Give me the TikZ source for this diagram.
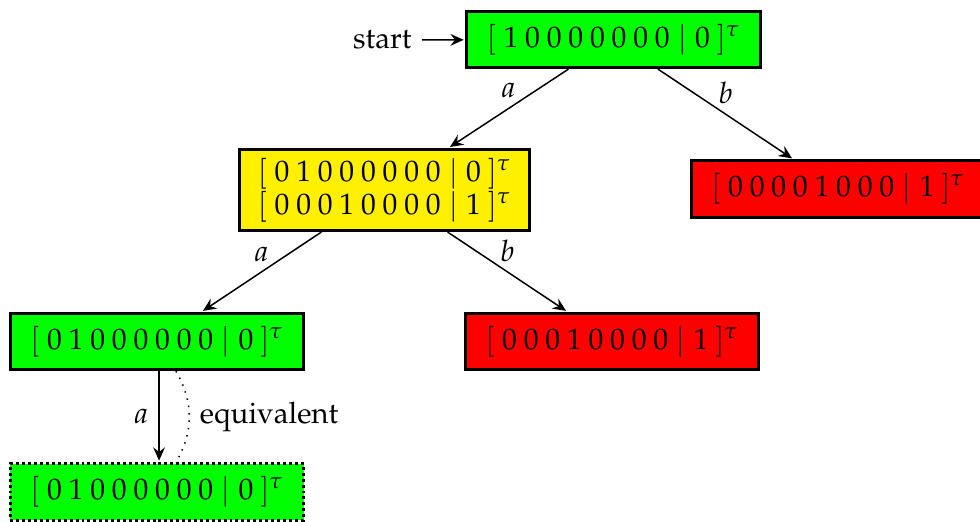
\documentclass[tikz,border=0pt]{standalone}
\usepackage[T1]{fontenc}
\usepackage{mathpazo}
\usetikzlibrary{arrows.meta}
\newcommand{\dg}{\kern2.3pt}
\newcommand{\vecv}[2]{$[\kern2.6pt#1\kern2.7pt|\kern2.7pt#2\kern2.3pt]^{\tau}$}
\tikzset{
  statebox/.style={draw, line width=1pt, minimum width=99pt, minimum height=19pt, inner sep=2pt},
  goodbox/.style={statebox, fill={rgb,255:red,0;green,255;blue,0}},
  badbox/.style={statebox, fill={rgb,255:red,255;green,0;blue,0}},
  mixbox/.style={statebox, fill={rgb,255:red,255;green,240;blue,0}, minimum height=27.4pt, minimum width=98pt},
  dotbox/.style={goodbox, dash pattern=on 1pt off 1pt},
  trans/.style={-{Stealth[length=4.5pt, width=4pt, inset=1.6pt]}, line width=0.5pt, shorten >=0.6pt},
}
\begin{document}
\begin{tikzpicture}[x=0.3378pt, y=-0.3378pt]
\useasboundingbox (0,0) rectangle (980,521);
\node[goodbox] (top) at (613.5,39.5) {\vecv{1\dg0\dg0\dg0\dg0\dg0\dg0\dg0}{0}};
\node[mixbox, align=center] (mix) at (384.5,190) {\vecv{0\dg1\dg0\dg0\dg0\dg0\dg0\dg0}{0}\\[-1pt]\vecv{0\dg0\dg0\dg1\dg0\dg0\dg0\dg0}{1}};
\node[badbox] (rr) at (838,189) {\vecv{0\dg0\dg0\dg0\dg1\dg0\dg0\dg0}{1}};
\node[goodbox] (gl) at (157,341.5) {\vecv{0\dg1\dg0\dg0\dg0\dg0\dg0\dg0}{0}};
\node[badbox] (rm) at (612,341.5) {\vecv{0\dg0\dg0\dg1\dg0\dg0\dg0\dg0}{1}};
\node[dotbox] (gd) at (157,492) {\vecv{0\dg1\dg0\dg0\dg0\dg0\dg0\dg0}{0}};
\node[anchor=east] (st) at (422,40) {start};
\draw[trans] (st) -- (top);
\draw[trans] (top) -- node[above] {$a$} (mix);
\draw[trans] (top) -- node[above] {$b$} (rr);
\draw[trans] (mix) -- node[above] {$a$} (gl);
\draw[trans] (mix) -- node[above] {$b$} (rm);
\draw[trans] ([xshift=0.7pt]gl.south) -- node[left] {$a$} ([xshift=0.7pt]gd.north);
\draw[dotted, line width=0.5pt] ([xshift=6.4pt]gl.south) to[bend left=30] node[right] {equivalent} ([xshift=6.4pt]gd.north);
\end{tikzpicture}
\end{document}
